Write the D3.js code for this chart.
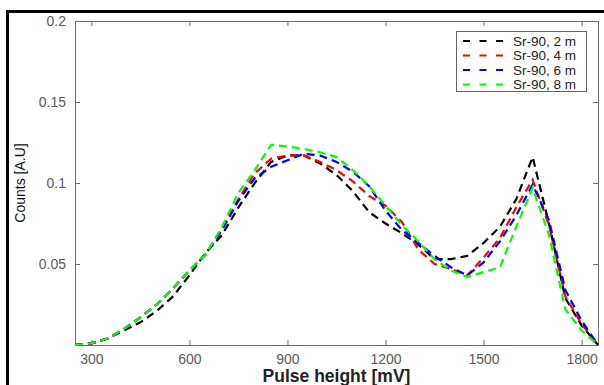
<!DOCTYPE html>
<html>
<head>
<meta charset="utf-8">
<script src="https://cdn.jsdelivr.net/npm/d3@7"></script>
<style>
  body { margin: 0; background: #fff; }
  svg { display: block; font-family: "Liberation Sans", Arial, sans-serif; }
</style>
</head>
<body>
<div id="chart"></div>
<script>
// pulse height bins [mV]
var pulseHeight = [250, 300, 350, 400, 450, 500, 550, 600, 650, 700, 750, 800, 850, 900, 950,
  1000, 1050, 1100, 1150, 1200, 1250, 1300, 1350, 1400, 1450, 1500, 1550, 1600, 1650, 1700,
  1750, 1800, 1850];

var sr2m = [0, 0.001, 0.004, 0.009, 0.014, 0.021, 0.030, 0.043, 0.057, 0.068, 0.085, 0.100, 0.113,
  0.117, 0.117, 0.112, 0.105, 0.095, 0.082, 0.075, 0.069, 0.062, 0.053, 0.053, 0.055, 0.063,
  0.073, 0.090, 0.116, 0.075, 0.029, 0.012, 0];
var sr4m = [0, 0.001, 0.004, 0.010, 0.017, 0.025, 0.035, 0.046, 0.056, 0.072, 0.090, 0.106, 0.115,
  0.117, 0.117, 0.113, 0.108, 0.101, 0.092, 0.086, 0.076, 0.059, 0.050, 0.047, 0.043, 0.054,
  0.066, 0.085, 0.102, 0.074, 0.030, 0.013, 0];
var sr6m = [0, 0.001, 0.004, 0.010, 0.017, 0.025, 0.035, 0.046, 0.056, 0.071, 0.089, 0.103, 0.110,
  0.114, 0.118, 0.117, 0.113, 0.107, 0.098, 0.083, 0.071, 0.063, 0.055, 0.048, 0.043, 0.051,
  0.064, 0.080, 0.099, 0.077, 0.034, 0.015, 0];
var sr8m = [0, 0.001, 0.004, 0.010, 0.017, 0.025, 0.035, 0.046, 0.056, 0.073, 0.094, 0.108, 0.1235,
  0.1225, 0.121, 0.119, 0.116, 0.108, 0.098, 0.086, 0.074, 0.064, 0.053, 0.046, 0.042, 0.045,
  0.048, 0.073, 0.097, 0.068, 0.022, 0.009, 0];

var seriesNames = ["Sr-90, 2 m", "Sr-90, 4 m", "Sr-90, 6 m", "Sr-90, 8 m"];
var seriesColors = ["#000000", "#ff0000", "#0000ff", "#00ff00"];
var seriesValues = [sr2m, sr4m, sr6m, sr8m];

var xTicks = [300, 600, 900, 1200, 1500, 1800];
var yTicks = [0.05, 0.1, 0.15, 0.2];

var width = 604, height = 385;
var margin = {left: 75, top: 21, right: 6, bottom: 40};

var svg = d3.select("#chart").append("svg")
    .attr("width", width)
    .attr("height", height);

// outer frame
svg.append("rect")
    .attr("x", 7.5)
    .attr("y", 11.5)
    .attr("width", 700)
    .attr("height", 500)
    .style("fill", "none")
    .style("stroke", "#000")
    .style("stroke-width", 3);

var x = d3.scaleLinear()
    .domain([250, 1850])
    .range([margin.left, width - margin.right]);

var y = d3.scaleLinear()
    .domain([0, 0.2])
    .range([height - margin.bottom, margin.top]);

var axisColor = "#6e6e6e";
var textColor = "#5a5a5a";

function styleAxis(g, showText) {
  g.select(".domain").remove();
  g.selectAll(".tick line").style("stroke", axisColor);
  g.selectAll(".tick text")
      .style("fill", textColor)
      .style("font-size", "14px")
      .style("display", showText ? null : "none");
}

// bottom axis, ticks inward
svg.append("g")
    .attr("transform", "translate(0," + y(0) + ")")
    .call(d3.axisBottom(x).tickValues(xTicks).tickSizeInner(-5).tickSizeOuter(0).tickPadding(9)
      .tickFormat(d3.format("d")))
    .call(styleAxis, true);

// top axis
svg.append("g")
    .attr("transform", "translate(0," + y(0.2) + ")")
    .call(d3.axisTop(x).tickValues(xTicks).tickSizeInner(-5).tickSizeOuter(0))
    .call(styleAxis, false);

// left axis
svg.append("g")
    .attr("transform", "translate(" + x(250) + ",0)")
    .call(d3.axisLeft(y).tickValues(yTicks).tickSizeInner(-5).tickSizeOuter(0).tickPadding(9)
      .tickFormat(function(d) { return String(+d.toFixed(2)); }))
    .call(styleAxis, true);

// right axis
svg.append("g")
    .attr("transform", "translate(" + x(1850) + ",0)")
    .call(d3.axisRight(y).tickValues(yTicks).tickSizeInner(-5).tickSizeOuter(0))
    .call(styleAxis, false);

// axes box
svg.append("rect")
    .attr("x", x(250))
    .attr("y", y(0.2))
    .attr("width", x(1850) - x(250))
    .attr("height", y(0) - y(0.2))
    .attr("shape-rendering", "crispEdges")
    .style("fill", "none")
    .style("stroke", axisColor)
    .style("stroke-width", 1);

// lines
var line = d3.line()
    .x(function(d, i) { return x(pulseHeight[i]); })
    .y(function(d) { return y(d); });

svg.append("g")
    .attr("class", "lines")
  .selectAll("path")
    .data(seriesValues)
  .enter().append("path")
    .attr("d", line)
    .style("fill", "none")
    .style("stroke", function(d, i) { return seriesColors[i]; })
    .style("stroke-width", 2.2)
    .style("stroke-dasharray", "8,5");

// axis labels
svg.append("text")
    .attr("x", (x(250) + x(1850)) / 2)
    .attr("y", 382)
    .attr("text-anchor", "middle")
    .style("font-size", "17.5px")
    .style("font-weight", "bold")
    .style("fill", "#222")
    .text("Pulse height [mV]");

svg.append("text")
    .attr("transform", "translate(25," + ((y(0) + y(0.2)) / 2) + ") rotate(-90)")
    .attr("text-anchor", "middle")
    .style("font-size", "14px")
    .style("fill", "#111")
    .text("Counts [A.U]");

// legend
var legend = svg.append("g")
    .attr("class", "legend");

legend.append("rect")
    .attr("x", 456.5)
    .attr("y", 31.5)
    .attr("width", 130)
    .attr("height", 60)
    .style("fill", "#fff")
    .style("stroke", "#666")
    .style("stroke-width", 1);

var item = legend.selectAll(".item")
    .data(seriesNames)
  .enter().append("g")
    .attr("class", "item")
    .attr("transform", function(d, i) { return "translate(0," + (41 + i * 14.5) + ")"; });

item.append("line")
    .attr("x1", 463)
    .attr("x2", 509)
    .style("stroke", function(d, i) { return seriesColors[i]; })
    .style("stroke-width", 2)
    .style("stroke-dasharray", "7,9.5");

item.append("text")
    .attr("x", 513)
    .attr("dy", "0.35em")
    .style("font-size", "13.5px")
    .style("fill", "#222")
    .text(function(d) { return d; });
</script>
</body>
</html>
